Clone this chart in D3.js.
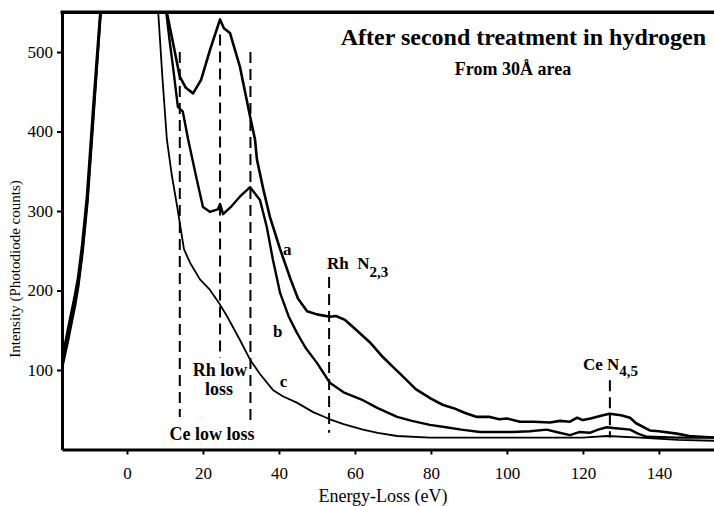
<html>
<head>
<style>
  body { margin: 0; background: #fff; }
  svg text { font-family: "Liberation Serif", "Times New Roman", serif; fill: #000; }
</style>
</head>
<body>
<svg id="chart" width="714" height="506"></svg>

<script src="https://d3js.org/d3.v7.min.js"></script>
<script>

// ---- data: [energy loss (eV), counts] ----
// curves leave the top of the frame around the zero-loss peak (clipped)
var curveA = [[-17.1,112],[-15.5,152],[-13.7,194],[-12.9,215],[-11.8,257],[-10.5,320],[-8.8,436],[-7.0,552],[-5,800],[0,1600],[6,900],
  [10.4,552],[12.1,512],[13.9,469],[15.5,455],[17.4,448],[19.5,465],[22,505],[24.5,541],[25.5,530],[27.1,524],[29.7,482],[32.4,419],
  [33.7,390],[34.2,365],[36,325],[37.6,293],[40.3,252],[43,215],[45,190],[47.4,174],[50,170],[53.4,167],[55,168],[57.4,163],
  [60,152],[63.9,135],[67,118],[70,104],[72.6,92],[76,76],[80,64],[83.2,56],[86,52],[89,46],[92.1,41],[95.5,41],[98,38],
  [100,39],[103.4,35],[107,35],[111.3,34],[114,36],[116.6,35],[118.5,40],[120,37],[122,39],[125.3,43],[127,45],[130,43],
  [132.4,40],[134,33],[137.6,24],[140,23],[144.7,20],[148,17],[151,16],[154.5,15]];

var curveB = [[-17.1,106],[-15.5,145],[-13.6,188],[-12.8,210],[-11.7,252],[-10.4,316],[-8.7,432],[-6.9,552],[-5,800],[0,1600],[6,900],
  [10.3,552],[11.2,515],[12.1,482],[13.4,431],[14.7,425],[16.1,390],[18.4,339],[20,305],[21.8,299],[23.9,302],[24.5,309],
  [25.3,296],[27.5,306],[29.7,318],[32.4,330],[35,314],[36.8,280],[38.4,239],[40.3,197],[42.5,168],[44.7,147],[47,128],[50,109],
  [53.4,84],[57,72],[62.1,62],[66,52],[71.1,41],[75,36],[79.7,31],[84,28],[88,25],[92.9,22],[97,22],[101.6,22],[106,23],
  [110.5,25],[113,22],[116.6,18],[119,22],[121.8,21],[124,25],[126.3,28],[128,27],[132.4,25],[134.5,20],[136.8,16],[145,15],[154.5,15]];

var curveC = [[-17.1,100],[-15.3,140],[-13.5,183],[-12.7,206],[-11.6,248],[-10.3,312],[-8.6,428],[-6.8,552],[-5,800],[0,1600],[5,900],
  [8.2,552],[9.3,470],[10.5,390],[11.8,345],[13.2,306],[15,252],[16.6,235],[19.2,214],[21.8,201],[24,186],[26.3,168],[29.7,138],
  [32.4,113],[35,95],[38.4,75],[41,67],[44.7,59],[49,47],[53.4,38],[57,32],[62.1,25],[66,21],[71.1,17],[79.7,15],[92.9,15],
  [110,15],[120,15],[126.3,17],[135,15],[145,12],[154.5,11]];

// dashed marker lines: energy, top and bottom in counts
var markerE   = [13.9, 24.5, 32.5, 53.2, 127.1];
var markerTop = [500, 522, 500, 217, 87];
var markerBot = [41, 115, 37, 21, 15];

var xTicks = [0, 20, 40, 60, 80, 100, 120, 140];
var yTicks = [100, 200, 300, 400, 500];

// curve letters: label, energy, counts at baseline
var curveLabels = [["a", 42.2, 245], ["b", 39.7, 142], ["c", 41.2, 79]];

var svg = d3.select("#chart");

var x = d3.scaleLinear().domain([-17.1, 154.5]).range([62, 714]);
var y = d3.scaleLinear().domain([0, 550]).range([449.5, 12.3]);

svg.append("clipPath").attr("id", "plotclip")
  .append("rect")
    .attr("x", x.range()[0]).attr("y", y.range()[1])
    .attr("width", x.range()[1] - x.range()[0])
    .attr("height", y.range()[0] - y.range()[1]);

// ---- axes ----
var xAxis = svg.append("g")
  .attr("transform", "translate(0," + y(0) + ")")
  .call(d3.axisBottom(x).tickValues(xTicks).tickSize(5).tickSizeOuter(0));
xAxis.select(".domain").attr("stroke-width", 3);
xAxis.selectAll(".tick line").attr("stroke-width", 2);
xAxis.selectAll("text").attr("dy", null).attr("y", 29).style("font-size", "17px");

var yAxis = svg.append("g")
  .attr("transform", "translate(" + x.range()[0] + ",0)")
  .call(d3.axisLeft(y).tickValues(yTicks).tickSize(5).tickPadding(4).tickSizeOuter(0));
yAxis.select(".domain").attr("stroke-width", 3);
yAxis.selectAll(".tick line").attr("stroke-width", 2);
yAxis.selectAll("text").style("font-size", "17px");

// top frame line
svg.append("line")
  .attr("x1", x.range()[0] - 1.5).attr("x2", x.range()[1])
  .attr("y1", y(550)).attr("y2", y(550))
  .attr("stroke", "#000").attr("stroke-width", 3.5);

// ---- dashed markers ----
svg.selectAll(".marker")
  .data(markerE)
  .enter().append("line")
    .attr("class", "marker")
    .attr("x1", function(d) { return x(d); })
    .attr("x2", function(d) { return x(d); })
    .attr("y1", function(d, i) { return y(markerTop[i]); })
    .attr("y2", function(d, i) { return y(markerBot[i]); })
    .attr("stroke", "#000")
    .attr("stroke-width", 2)
    .style("stroke-dasharray", "11,6");

// ---- spectra ----
var line = d3.line()
  .x(function(d) { return x(d[0]); })
  .y(function(d) { return y(d[1]); });

var plot = svg.append("g").attr("clip-path", "url(#plotclip)");

[[curveC, 1.8], [curveB, 2.4], [curveA, 2.6]].forEach(function(c) {
  plot.append("path")
    .attr("d", line(c[0]))
    .attr("fill", "none")
    .attr("stroke", "#000")
    .attr("stroke-width", c[1])
    .attr("stroke-linejoin", "round");
});

// ---- text ----
svg.selectAll(".clabel")
  .data(curveLabels)
  .enter().append("text")
    .attr("class", "clabel")
    .attr("x", function(d) { return x(d[1]); })
    .attr("y", function(d) { return y(d[2]); })
    .attr("text-anchor", "middle")
    .style("font-size", "17px").style("font-weight", "bold")
    .text(function(d) { return d[0]; });

svg.append("text")
  .attr("x", 706).attr("y", 45)
  .attr("text-anchor", "end")
  .style("font-size", "24px").style("font-weight", "bold")
  .text("After second treatment in hydrogen");

svg.append("text")
  .attr("x", 513).attr("y", 75)
  .attr("text-anchor", "middle")
  .style("font-size", "18px").style("font-weight", "bold")
  .text("From 30Å area");

svg.append("text")
  .attr("x", 220).attr("y", 376)
  .attr("text-anchor", "middle")
  .style("font-size", "18px").style("font-weight", "bold")
  .text("Rh low");
svg.append("text")
  .attr("x", 219).attr("y", 395)
  .attr("text-anchor", "middle")
  .style("font-size", "18px").style("font-weight", "bold")
  .text("loss");

svg.append("text")
  .attr("x", 212).attr("y", 440)
  .attr("text-anchor", "middle")
  .style("font-size", "18px").style("font-weight", "bold")
  .text("Ce low loss");

var rh = svg.append("text")
  .attr("x", 327).attr("y", 269)
  .style("font-size", "17px").style("font-weight", "bold");
rh.append("tspan").text("Rh\u00a0\u00a0N");
rh.append("tspan").attr("dy", 8).style("font-size", "15px").text("2,3");

var ce = svg.append("text")
  .attr("x", 583).attr("y", 370)
  .style("font-size", "17px").style("font-weight", "bold");
ce.append("tspan").text("Ce N");
ce.append("tspan").attr("dy", 6).style("font-size", "15px").text("4,5");

svg.append("text")
  .attr("x", 383).attr("y", 502)
  .attr("text-anchor", "middle")
  .style("font-size", "18px")
  .text("Energy-Loss (eV)");

svg.append("text")
  .attr("transform", "translate(20,269) rotate(-90)")
  .attr("text-anchor", "middle")
  .style("font-size", "15px")
  .text("Intensity (Photodiode counts)");

</script>
</body>
</html>
